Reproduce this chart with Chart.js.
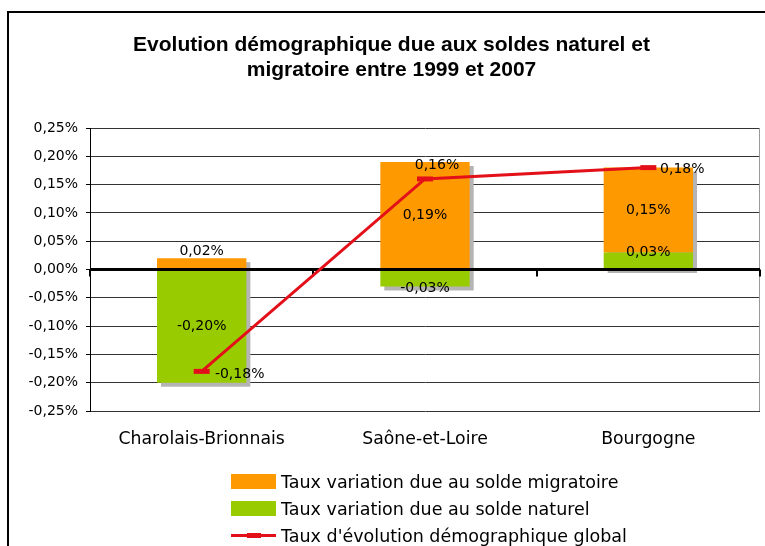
<!DOCTYPE html>
<html>
<head>
<meta charset="utf-8">
<script src="https://cdn.jsdelivr.net/npm/chart.js@4/dist/chart.umd.min.js"></script>
<style>
  html, body { margin: 0; padding: 0; background: #fff; }
  #wrap { position: relative; width: 765px; height: 546px; overflow: hidden; }
  #frame { position: absolute; left: 7px; top: 11px; width: 800px; height: 600px; border: 2px solid #000; }
  #chart { position: absolute; left: 0; top: 0; }
  #title { position: absolute; left: 9px; top: 31px; width: 765px; text-align: center; font-family: "Liberation Sans", Arial, sans-serif; font-weight: bold; font-size: 21px; line-height: 25px; color: #000; }
  #legend { position: absolute; left: 231px; top: 468px; font-family: "DejaVu Sans", sans-serif; font-size: 17.5px; color: #000; }
  #legend .row { height: 27px; display: flex; align-items: center; }
  #legend .swatch { width: 45px; height: 15px; margin-right: 5px; position: relative; }
  #legend .swatch.line:before { content: ""; position: absolute; left: 0; right: 0; top: 6px; height: 3px; background: var(--c); }
  #legend .swatch.line:after { content: ""; position: absolute; left: 16px; width: 14px; top: 5px; height: 5px; background: var(--c); }
</style>
</head>
<body>
<div id="wrap">
  <div id="frame"></div>
  <canvas id="chart" width="765" height="546"></canvas>
  <div id="title">Evolution démographique due aux soldes naturel et<br>migratoire entre 1999 et 2007</div>
  <div id="legend"></div>
</div>
<script>
// Données (en %)
const categories = ['Charolais-Brionnais', 'Saône-et-Loire', 'Bourgogne'];
const soldeMigratoire = [0.02, 0.19, 0.15];
const soldeNaturel = [-0.20, -0.03, 0.03];
const evolutionGlobale = [-0.18, 0.16, 0.18];
const yTicks = { min: -0.25, max: 0.25, step: 0.05 };

const ORANGE = '#ff9900';
const GREEN = '#99cc00';
const RED = '#e3101a';

function fmt(v) {
    if (Math.abs(v) < 1e-9) v = 0;
    return v.toFixed(2).replace('.', ',') + '%';
}

// Décalages des étiquettes (comme dans le graphique d'origine)
const labelNudge = {
    naturel: [{dx: 0, dy: 0}, {dx: 0, dy: 10}, {dx: 0, dy: -8}],
    migratoire: [{dx: 0, dy: -12}, {dx: 0, dy: 0}, {dx: 0, dy: 0}],
    global: [{dx: 38, dy: 3}, {dx: 12, dy: -14}, {dx: 34, dy: 2}]
};

const decorPlugin = {
    id: 'decor',
    beforeDatasetsDraw(chart) {
        const ctx = chart.ctx;
        const area = chart.chartArea;
        // bordure droite grise
        ctx.save();
        ctx.strokeStyle = '#999';
        ctx.lineWidth = 1;
        ctx.beginPath();
        ctx.moveTo(area.right - 0.5, area.top);
        ctx.lineTo(area.right - 0.5, area.bottom);
        ctx.stroke();
        // ombres des barres
        const bars = chart.data.datasets
            .map((d, i) => chart.getDatasetMeta(i))
            .filter(m => m.type === 'bar');
        ctx.fillStyle = '#b4b4b4';
        categories.forEach((c, idx) => {
            let top = Infinity, bottom = -Infinity, x = 0, w = 0;
            bars.forEach(m => {
                const el = m.data[idx];
                top = Math.min(top, el.y, el.base);
                bottom = Math.max(bottom, el.y, el.base);
                x = el.x; w = el.width;
            });
            ctx.fillRect(x - w / 2 + 4, top + 4, w, bottom - top);
        });
        ctx.restore();
    },
    beforeDatasetDraw(chart, args) {
        if (args.meta.type !== 'line') return;
        const ctx = chart.ctx;
        const area = chart.chartArea;
        const y0 = chart.scales.y.getPixelForValue(0);
        ctx.save();
        ctx.strokeStyle = '#000';
        ctx.lineWidth = 3;
        ctx.beginPath();
        ctx.moveTo(area.left, y0);
        ctx.lineTo(area.right, y0);
        ctx.stroke();
        ctx.lineWidth = 2;
        const step = (area.right - area.left) / categories.length;
        for (let i = 0; i <= categories.length; i++) {
            const bx = Math.round(area.left + i * step);
            ctx.beginPath();
            ctx.moveTo(bx, y0);
            ctx.lineTo(bx, y0 + 7);
            ctx.stroke();
        }
        ctx.restore();
    },
    afterDatasetsDraw(chart) {
        const ctx = chart.ctx;
        ctx.save();
        ctx.fillStyle = '#000';
        ctx.font = '14px "DejaVu Sans"';
        ctx.textAlign = 'center';
        ctx.textBaseline = 'middle';
        chart.data.datasets.forEach((ds, i) => {
            const meta = chart.getDatasetMeta(i);
            const nudge = labelNudge[ds.key];
            meta.data.forEach((el, idx) => {
                let x = el.x, y = el.y;
                if (meta.type === 'bar') y = (el.y + el.base) / 2;
                ctx.fillText(fmt(ds.data[idx]), x + nudge[idx].dx, y + nudge[idx].dy);
            });
        });
        ctx.restore();
    }
};

const chart = new Chart(document.getElementById('chart'), {
    type: 'bar',
    data: {
        labels: categories,
        datasets: [{
            key: 'global',
            type: 'line',
            label: "Taux d'évolution démographique global",
            data: evolutionGlobale,
            borderColor: RED,
            backgroundColor: RED,
            borderWidth: 3,
            tension: 0,
            pointStyle: 'line',
            pointRadius: 8,
            pointBorderWidth: 5,
            pointBorderColor: RED,
            order: 0
        }, {
            key: 'naturel',
            label: 'Taux variation due au solde naturel',
            data: soldeNaturel,
            backgroundColor: GREEN,
            categoryPercentage: 1,
            barPercentage: 0.4,
            order: 1
        }, {
            key: 'migratoire',
            label: 'Taux variation due au solde migratoire',
            data: soldeMigratoire,
            backgroundColor: ORANGE,
            categoryPercentage: 1,
            barPercentage: 0.4,
            order: 1
        }]
    },
    options: {
        responsive: false,
        animation: false,
        layout: { autoPadding: false, padding: { left: 0, right: 5, top: 128, bottom: 0 } },
        plugins: {
            legend: { display: false },
            tooltip: { enabled: false },
            title: { display: false }
        },
        scales: {
            x: {
                stacked: true,
                grid: { display: false, drawTicks: false },
                border: { display: false },
                ticks: { color: '#000', font: { family: 'DejaVu Sans', size: 17.3 }, padding: 18 },
                afterFit(scale) {
                    scale.height = 135;
                    scale.paddingLeft = 0;
                    scale.paddingRight = 0;
                }
            },
            y: {
                stacked: true,
                min: yTicks.min,
                max: yTicks.max,
                grid: { color: '#333', tickColor: '#000', tickLength: 4 },
                border: { display: true, color: '#000', width: 1 },
                ticks: {
                    stepSize: yTicks.step,
                    color: '#000',
                    padding: 8,
                    font: { family: 'DejaVu Sans', size: 14 },
                    callback: v => fmt(v)
                },
                afterFit(scale) {
                    scale.width = 90;
                    scale.paddingTop = 0;
                    scale.paddingBottom = 0;
                }
            }
        }
    },
    plugins: [decorPlugin]
});

// Légende en colonne (ordre d'origine)
const legend = document.getElementById('legend');
['migratoire', 'naturel', 'global'].forEach(k => {
    const ds = chart.data.datasets.find(d => d.key === k);
    const row = document.createElement('div');
    row.className = 'row';
    const sw = document.createElement('span');
    if (ds.type === 'line') {
        sw.className = 'swatch line';
        sw.style.setProperty('--c', ds.borderColor);
    } else {
        sw.className = 'swatch';
        sw.style.background = ds.backgroundColor;
    }
    const txt = document.createElement('span');
    txt.textContent = ds.label;
    row.appendChild(sw);
    row.appendChild(txt);
    legend.appendChild(row);
});
</script>
</body>
</html>
